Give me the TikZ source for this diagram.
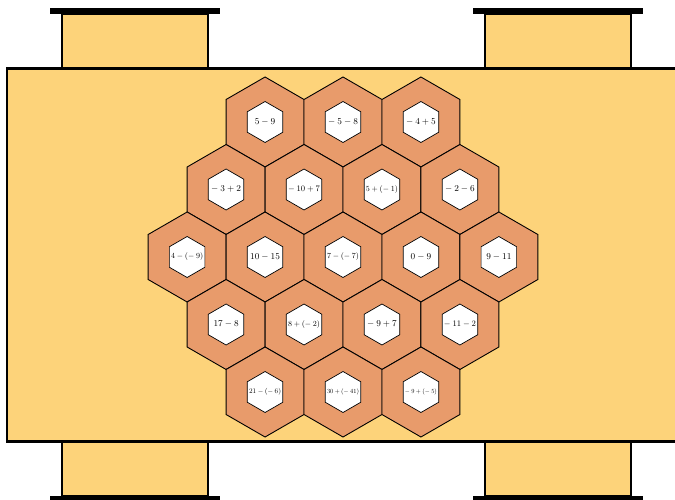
\documentclass[tikz,border=0pt]{standalone}
\usepackage{graphicx}
\usetikzlibrary{shapes.geometric}

\definecolor{tablecolor}{RGB}{253,211,122}
\definecolor{tilecolor}{RGB}{232,155,107}

% etiqueta de la ficha, reducida si no cabe
\newsavebox\lblbox
\newcommand{\hexlbl}[1]{\sbox\lblbox{$#1$}%
  \ifdim\wd\lblbox>32pt\resizebox{32pt}{!}{\usebox\lblbox}\else\usebox\lblbox\fi}
\newcommand{\mn}{-\:}

\begin{document}
\begin{tikzpicture}
  [x=1pt, y=1pt,
   table/.style={fill=tablecolor, draw=black, line width=2.2pt},
   leg/.style={fill=tablecolor, draw=black, line width=1.5pt},
   bar/.style={draw=black, line width=5.6pt},
   tile/.style={regular polygon, regular polygon sides=6, shape border rotate=30,
                minimum size=90pt, inner sep=0pt, fill=tilecolor, draw=black, line width=0.9pt},
   cell/.style={regular polygon, regular polygon sides=6, shape border rotate=30,
                minimum size=41pt, inner sep=0pt, fill=white, draw=black, line width=0.7pt},
   op/.style={inner sep=0pt, font=\fontsize{9}{10}\selectfont}]

  \useasboundingbox (0,0) rectangle (675,499);
  \clip (0,0) rectangle (675,499);

  % Patas
  \foreach \lx in {62, 485} {
    \draw[leg] (\lx,430) rectangle (\lx+146,485);
    \draw[bar] (\lx-12,488) -- (\lx+158,488);
    \draw[leg] (\lx,58) rectangle (\lx+146,3);
    \draw[bar] (\lx-12,0) -- (\lx+158,0);
  }

  % Mesa
  \draw[table] (7,57.5) rectangle (690,430.5);

  % Fichas
  \foreach \name/\cx/\cy in {a1/-2/2, a2/0/2, a3/2/2,
                              b1/-3/1, b2/-1/1, b3/1/1, b4/3/1,
                              c1/-4/0, c2/-2/0, c3/0/0, c4/2/0, c5/4/0,
                              d1/-3/-1, d2/-1/-1, d3/1/-1, d4/3/-1,
                              e1/-2/-2, e2/0/-2, e3/2/-2}
    \node[tile] (t\name) at ({343+\cx*38.97},{242+\cy*67.5}) {};

  % Operaciones
  \foreach \name/\txt in {a1/{5-9}, a2/{\mn5-8}, a3/{\mn4+5},
                           b1/{\mn3+2}, b2/{\mn10+7}, b3/{5+(\mn1)}, b4/{\mn2-6},
                           c1/{4-(\mn9)}, c2/{10-15}, c3/{7-(\mn7)}, c4/{0-9}, c5/{9-11},
                           d1/{17-8}, d2/{8+(\mn2)}, d3/{\mn9+7}, d4/{\mn11-2},
                           e1/{21-(\mn6)}, e2/{30+(\mn41)}, e3/{\mn9+(\mn5)}} {
    \node[cell] (h\name) at (t\name) {};
    \node[op] (o\name) at (h\name) {\hexlbl{\txt}};
  }
\end{tikzpicture}
\end{document}
